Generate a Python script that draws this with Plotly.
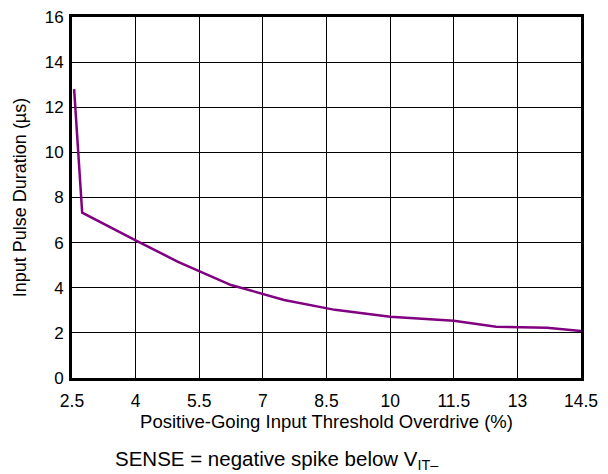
import plotly.graph_objects as go

# Data
overdrive_pct = [2.55, 2.74, 4.0, 5.0, 6.25, 7.5, 8.7, 10.0, 11.5, 12.5, 13.7, 14.5]
pulse_duration_us = [12.8, 7.33, 6.1, 5.15, 4.12, 3.46, 3.02, 2.72, 2.54, 2.27, 2.23, 2.08]

x_ticks = [2.5, 4, 5.5, 7, 8.5, 10, 11.5, 13, 14.5]
x_tick_labels = ["2.5", "4", "5.5", "7", "8.5", "10", "11.5", "13", "14.5"]
y_ticks = [0, 2, 4, 6, 8, 10, 12, 14, 16]

FONT = "Liberation Sans, Arial, Helvetica, sans-serif"

fig = go.Figure()
fig.add_trace(go.Scatter(
    x=overdrive_pct, y=pulse_duration_us, mode="lines",
    line=dict(color="#800080", width=2.5),
    showlegend=False, hoverinfo="skip",
))

fig.update_layout(
    width=608, height=474,
    margin=dict(l=72, r=27, t=17, b=96),
    paper_bgcolor="white", plot_bgcolor="white",
    font=dict(family=FONT, size=17, color="black"),
    xaxis=dict(
        range=[2.5, 14.5], tickmode="array", tickvals=x_ticks, ticktext=x_tick_labels,
        showgrid=True, gridcolor="black", gridwidth=1,
        showline=True, linecolor="black", linewidth=3, mirror=True,
        ticks="", zeroline=False, automargin=False,
        tickfont=dict(size=17.5), ticklabelstandoff=5,
        title=dict(text="Positive-Going Input Threshold Overdrive (%)",
                   font=dict(size=18.5), standoff=6),
    ),
    yaxis=dict(
        range=[0, 16], tickmode="array", tickvals=y_ticks,
        showgrid=True, gridcolor="black", gridwidth=1,
        showline=True, linecolor="black", linewidth=3, mirror=True,
        ticks="", zeroline=False, automargin=False,
        tickfont=dict(size=17), ticklabelstandoff=2,
        title=dict(text="Input Pulse Duration (µs)", font=dict(size=18), standoff=14),
    ),
    annotations=[dict(
        text="SENSE = negative spike below V<sub>IT–</sub>",
        xref="paper", yref="paper", x=0.08, y=-0.226,
        xanchor="left", yanchor="middle", showarrow=False,
        font=dict(family=FONT, size=20.5, color="black"),
    )],
)

fig.write_html(
    "out.html",
    config={"displayModeBar": False},
    post_script="document.body.style.margin='0';document.body.style.overflow='hidden';",
)
